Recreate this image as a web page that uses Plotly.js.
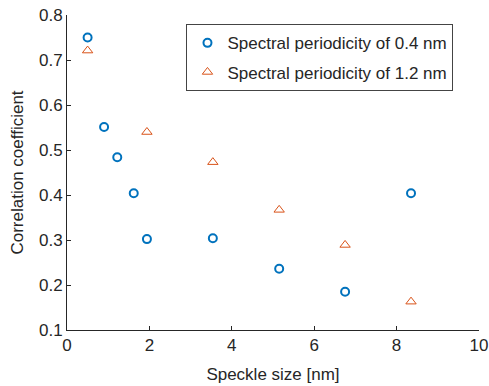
<!DOCTYPE html>
<html><head><meta charset="utf-8">
<script src="https://cdn.plot.ly/plotly-3.0.1.min.js"></script>
<style>body{margin:0;padding:0;background:#fff}#c{width:489px;height:386px}</style>
</head><body><div id="c"></div>
<script>
const speckleA = [0.5, 0.9, 1.22, 1.62, 1.94, 3.54, 5.15, 6.75, 8.35];
const corrA = [0.750, 0.551, 0.484, 0.404, 0.302, 0.304, 0.236, 0.185, 0.404];
const speckleB = [0.5, 1.94, 3.54, 5.15, 6.75, 8.35];
const corrB = [0.721, 0.540, 0.473, 0.367, 0.289, 0.163];
const nameA = 'Spectral periodicity of 0.4 nm';
const nameB = 'Spectral periodicity of 1.2 nm';

const font = {family: 'Liberation Sans, Arial, sans-serif', size: 17, color: '#262626'};
const traces = [
  {x: speckleA, y: corrA, name: nameA, legendgroup: 'a', mode: 'markers', type: 'scatter',
   marker: {symbol: 'circle-open', size: 8, color: '#0072BD', line: {width: 2, color: '#0072BD'}}},
  {x: speckleB, y: corrB, name: nameB, legendgroup: 'b', mode: 'markers', type: 'scatter',
   marker: {symbol: 'triangle-up-open', size: 9, color: '#D95319', line: {width: 1, color: '#D95319'}}}
];
const axisCommon = {showline: true, linecolor: '#262626', linewidth: 1, ticks: 'inside', ticklen: 4,
  tickcolor: '#262626', showgrid: false, zeroline: false, mirror: false, tickfont: font};
const layout = {
  width: 489, height: 386,
  margin: {l: 67, r: 10, t: 15, b: 56},
  paper_bgcolor: '#fff', plot_bgcolor: '#fff',
  font: font,
  showlegend: true,
  legend: {x: 0.29, y: 0.9705, xanchor: 'left', yanchor: 'top', bgcolor: '#fff',
    bordercolor: '#444', borderwidth: 1, font: font, tracegroupgap: 4, itemwidth: 30},
  xaxis: Object.assign({}, axisCommon, {range: [0, 10], dtick: 2, tick0: 0,
    title: {text: 'Speckle size [nm]', font: font, standoff: 13}}),
  yaxis: Object.assign({}, axisCommon, {range: [0.1, 0.8], dtick: 0.1, tick0: 0.1, tickformat: '.1f',
    title: {text: 'Correlation coefficient', font: font, standoff: 11}})
};
Plotly.newPlot('c', traces, layout, {displayModeBar: false, staticPlot: true});
</script></body></html>
